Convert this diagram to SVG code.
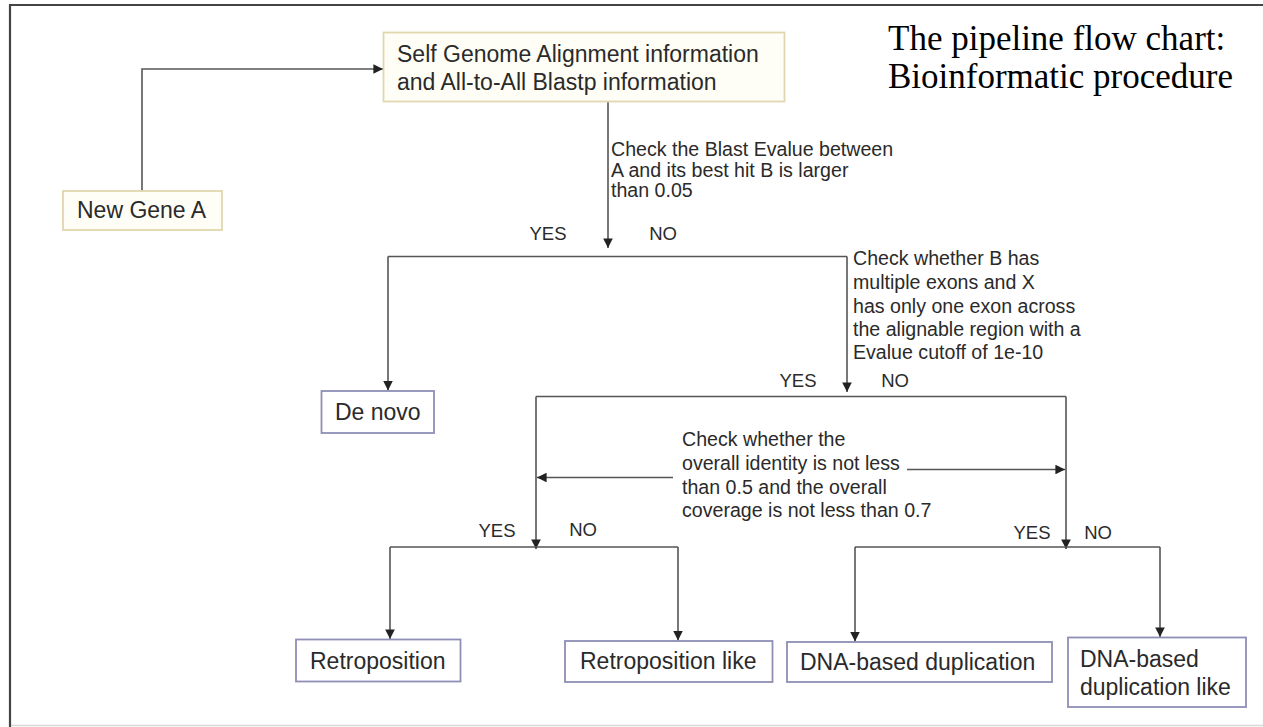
<svg xmlns="http://www.w3.org/2000/svg" width="1263" height="727" viewBox="0 0 1263 727">
  <style>
    .frame { stroke: #444; stroke-width: 2.2; fill: none; }
    .frame-b { stroke: #d8d8d8; stroke-width: 1.5; fill: none; }
    .src { fill: #fffef6; stroke: #e0d7ae; stroke-width: 1.8; }
    .out { fill: #ffffff; stroke: #8e8eb6; stroke-width: 1.8; }
    .node-t { font-family: "Liberation Sans", Arial, sans-serif; font-size: 23px; fill: #2a2a2a; }
    .note { font-family: "Liberation Sans", Arial, sans-serif; font-size: 19.6px; fill: #2a2a2a; }
    .yn { font-family: "Liberation Sans", Arial, sans-serif; font-size: 18.5px; fill: #2a2a2a; text-anchor: middle; }
    .title { font-family: "Liberation Serif", "Times New Roman", serif; font-size: 35px; fill: #000; }
    .wire { stroke: #555; stroke-width: 1.6; fill: none; }
    .wire-a { stroke: #555; stroke-width: 1.6; fill: none; marker-end: url(#tip); }
  </style>
  <defs>
    <marker id="tip" viewBox="0 0 10 10" refX="10" refY="5" markerWidth="6" markerHeight="6" markerUnits="strokeWidth" orient="auto">
      <path d="M0,0 L10,5 L0,10 Z" fill="#222"/>
    </marker>
  </defs>

  <rect width="1263" height="727" fill="#ffffff"/>

  <!-- outer frame (open on the right) -->
  <g id="frame">
    <line class="frame" x1="9" y1="5" x2="1263" y2="5"/>
    <line class="frame" x1="10" y1="4" x2="10" y2="727"/>
    <line class="frame-b" x1="11" y1="725.5" x2="1263" y2="725.5"/>
  </g>

  <g id="title">
    <text class="title" x="888" y="50">The pipeline flow chart:</text>
    <text class="title" x="888" y="88">Bioinformatic procedure</text>
  </g>

  <!-- connectors -->
  <g id="connectors">
    <path class="wire-a" d="M142,191 V69 H383"/>
    <path class="wire-a" d="M608,102 V248"/>

    <path class="wire" d="M388,256.5 H847"/>
    <path class="wire-a" d="M388,256.5 V390.5"/>
    <path class="wire-a" d="M847,256.5 V392"/>

    <path class="wire" d="M536,396.5 H1066"/>
    <path class="wire-a" d="M536,396.5 V549"/>
    <path class="wire-a" d="M1066,396.5 V549"/>
    <path class="wire-a" d="M673,477.5 H537"/>
    <path class="wire-a" d="M907,469.5 H1065"/>

    <path class="wire" d="M390,547 H678"/>
    <path class="wire-a" d="M390,547 V639"/>
    <path class="wire-a" d="M678,547 V640.5"/>

    <path class="wire" d="M855,547 H1160"/>
    <path class="wire-a" d="M855,547 V641.5"/>
    <path class="wire-a" d="M1160,547 V637"/>
  </g>

  <!-- branch annotations -->
  <g id="labels">
    <text class="note" x="611" y="156">Check the Blast Evalue between</text>
    <text class="note" x="611" y="177">A and its best hit B is larger</text>
    <text class="note" x="611" y="197">than 0.05</text>
    <text class="yn" x="548" y="240">YES</text>
    <text class="yn" x="663" y="240">NO</text>

    <text class="note" x="853" y="265">Check whether B has</text>
    <text class="note" x="853" y="289">multiple exons and X</text>
    <text class="note" x="853" y="313">has only one exon across</text>
    <text class="note" x="853" y="336">the alignable region with a</text>
    <text class="note" x="853" y="359">Evalue cutoff of 1e-10</text>
    <text class="yn" x="798" y="387">YES</text>
    <text class="yn" x="895" y="387">NO</text>

    <text class="note" x="682" y="446">Check whether the</text>
    <text class="note" x="682" y="470">overall identity is not less</text>
    <text class="note" x="682" y="494">than 0.5 and the overall</text>
    <text class="note" x="682" y="517">coverage is not less than 0.7</text>
    <text class="yn" x="497" y="537">YES</text>
    <text class="yn" x="583" y="536">NO</text>
    <text class="yn" x="1032" y="539">YES</text>
    <text class="yn" x="1098" y="539">NO</text>
  </g>

  <g id="new-gene-a">
    <rect class="src" x="63" y="191" width="159" height="39"/>
    <text class="node-t" x="77" y="218">New Gene A</text>
  </g>

  <g id="self-genome">
    <rect class="src" x="383.5" y="32.5" width="401" height="69"/>
    <text class="node-t" x="397" y="62">Self Genome Alignment information</text>
    <text class="node-t" x="397" y="90">and All-to-All Blastp information</text>
  </g>

  <g id="de-novo">
    <rect class="out" x="321.5" y="391" width="112.5" height="42"/>
    <text class="node-t" x="335" y="420">De novo</text>
  </g>

  <g id="retroposition">
    <rect class="out" x="296" y="639.5" width="164.5" height="42"/>
    <text class="node-t" x="310" y="669">Retroposition</text>
  </g>

  <g id="retroposition-like">
    <rect class="out" x="565" y="641" width="207.5" height="41"/>
    <text class="node-t" x="580" y="669">Retroposition like</text>
  </g>

  <g id="dna-dup">
    <rect class="out" x="787" y="642" width="265" height="40"/>
    <text class="node-t" x="800" y="670">DNA-based duplication</text>
  </g>

  <g id="dna-dup-like">
    <rect class="out" x="1068" y="637.5" width="178" height="69.5"/>
    <text class="node-t" x="1080" y="667">DNA-based</text>
    <text class="node-t" x="1080" y="695">duplication like</text>
  </g>
</svg>
